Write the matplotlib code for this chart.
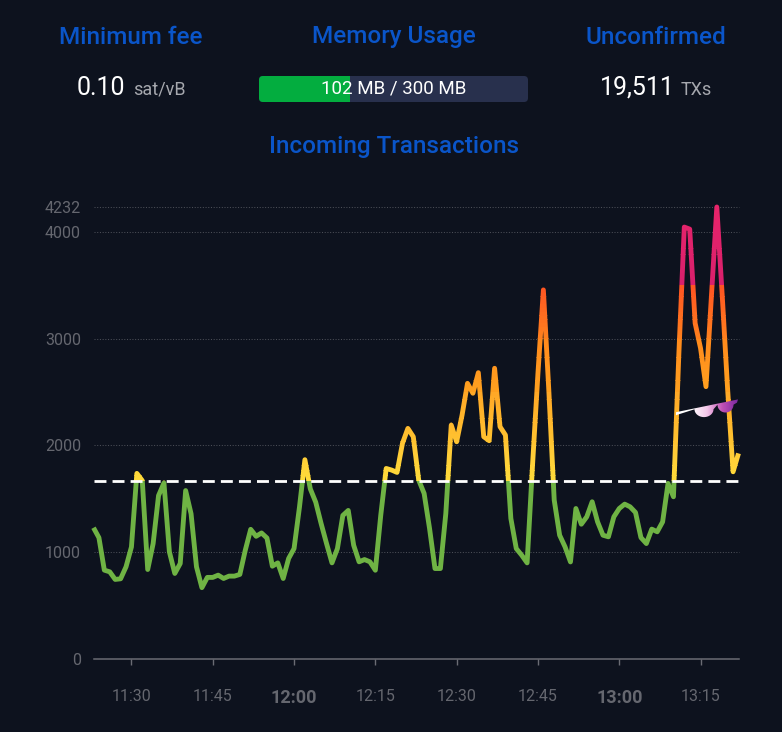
import numpy as np
import pandas as pd
import matplotlib
matplotlib.use("Agg")
import matplotlib.pyplot as plt
import matplotlib.dates as mdates
from matplotlib.colors import LinearSegmentedColormap, to_rgb
from matplotlib.patches import Rectangle, FancyBboxPatch

plt.rcParams['font.family'] = ['Roboto', 'DejaVu Sans']

BG = '#0d121e'
BLUE = '#0a55c9'
GRAY = '#65676f'

start_time = '2024-01-01 11:23'
tx_rate = [1229,1136,832,816,745,751,863,1049,1738,1670,838,1080,1530,1648,1003,801,894,1577,1360,863,
           668,764,764,785,754,776,776,792,1018,1214,1149,1180,1133,869,900,754,941,1034,1422,1866,
           1593,1468,1267,1080,900,1034,1344,1391,1065,910,931,910,831,1347,1784,1769,1747,2019,2159,2081,
           1675,1550,1222,847,847,1362,2190,2034,2284,2581,2488,2681,2081,2044,2722,2175,2097,1316,1034,972,
           900,1816,2675,3456,2519,1488,1159,1050,909,1409,1262,1331,1472,1284,1159,1144,1331,1409,1450,1425,
           1372,1137,1081,1216,1191,1284,1644,1519,2862,4044,4025,3144,2909,2550,3394,4232,3400,2519,1753,1925]
threshold = 1670
y_ticks = [0, 1000, 2000, 3000, 4000, 4232]
x_tick_times = ['11:30','11:45','12:00','12:15','12:30','12:45','13:00','13:15']
bold_ticks = ['12:00','13:00']
# value band: (low, high, colour at low, colour at high)
bands = [(0, threshold, '#6fb344', '#6fb344'),
         (threshold, 2000, '#ffdb3a', '#ffc836'),
         (2000, 2500, '#ffc431', '#ffa826'),
         (2500, 3000, '#ffa01f', '#ff8a1c'),
         (3000, 3500, '#ff7f1e', '#ff5522'),
         (3500, 4300, '#d9206c', '#e8246a')]

W, H = 782, 732
fig = plt.figure(figsize=(W/100, H/100), dpi=100, facecolor=BG)

def fx(px): return px / W
def fy(py): return 1 - py / H

ax = fig.add_axes([fx(93.5), fy(659), (738.5-93.5)/W, (659-207)/H])
ax.set_facecolor(BG)

times = pd.date_range(start_time, periods=len(tx_rate), freq='min')
day = start_time[:10]
xnum = mdates.date2num(times)
ax.set_xlim(xnum[0], xnum[-1])
ax.set_ylim(0, 4232)

for spine in ['top', 'right', 'left']:
    ax.spines[spine].set_visible(False)
ax.spines['bottom'].set_color('#6a6c74')
ax.spines['bottom'].set_linewidth(1.1)

# grid
for v in y_ticks[1:]:
    ax.axhline(v, color='#4b4e57', lw=0.75, dashes=(1, 1.6), zorder=1, clip_on=False)

# line: one copy per value slice, clipped so that its colour follows the value
for lo, hi, c0, c1 in bands:
    n = 1 if c0 == c1 else 14
    edges = np.linspace(lo, hi, n + 1)
    for k in range(n):
        t = k / max(n - 1, 1)
        col = tuple((1-t)*a + t*b for a, b in zip(to_rgb(c0), to_rgb(c1)))
        line, = ax.plot(xnum, tx_rate, color=col, lw=3.5, solid_joinstyle='round',
                        solid_capstyle='butt', zorder=3, clip_on=True)
        clip_lo = edges[k] if lo > 0 else -200
        rect = Rectangle((xnum[0]-1, clip_lo), xnum[-1]-xnum[0]+2, edges[k+1]-clip_lo + 2,
                         transform=ax.transData)
        line.set_clip_path(rect)

# threshold
ax.plot([xnum[0], xnum[-1]], [threshold, threshold], color='white', lw=2.0,
        dashes=(4.3, 2.2), zorder=4, dash_capstyle='butt', clip_on=False)

# ticks
ax.set_yticks(y_ticks)
ax.set_yticklabels([str(v) for v in y_ticks], fontsize=11.5, color=GRAY)
ax.tick_params(axis='y', length=0, pad=9)
tick_nums = mdates.date2num(pd.to_datetime([f'{day} {t}' for t in x_tick_times]))
ax.set_xticks(tick_nums)
labels = ax.set_xticklabels(x_tick_times, fontsize=11.5, color=GRAY)
for lb, t in zip(labels, x_tick_times):
    if t in bold_ticks:
        lb.set_fontweight('bold')
        lb.set_fontsize(13)
ax.tick_params(axis='x', length=4.5, width=1.0, color='#6a6c74', pad=17)

# goggle-shaped annotation, drawn in pixel-based overlay axes
ov = fig.add_axes([0, 0, 1, 1], facecolor='none')
ov.set_xlim(0, W); ov.set_ylim(H, 0); ov.axis('off')
cmap = LinearSegmentedColormap.from_list('g', ['#ffffff', '#ffffff', '#f4c8ea', '#c050b4', '#7a28a0'])
grad = np.linspace(0, 1, 256).reshape(1, -1)
im = ov.imshow(grad, extent=[676, 738, 425, 395], cmap=cmap, aspect='auto', zorder=5)
ov.set_xlim(0, W); ov.set_ylim(H, 0)

def lens(cx, cy, rx, ry):
    th = np.linspace(0.0, np.pi, 30)
    return list(zip(cx + rx*np.cos(th), cy + ry*np.sin(th)))

poly = [(676, 412.2), (738, 399.4), (737, 402.6)]
poly += lens(725.5, 404.7, 8, 7.8)
poly += lens(704, 409.3, 9.5, 7.8)
poly += [(676, 415.2)]
clip = plt.Polygon(poly, closed=True, transform=ov.transData, fc='none', ec='none')
ov.add_patch(clip)
im.set_clip_path(clip)

# header
def T(px, py, s, **kw):
    return fig.text(fx(px), fy(py), s, ha=kw.pop('ha', 'center'), va='center', **kw)

HEAD = dict(color=BLUE, fontsize=17.5, fontweight='medium')
T(131, 37, 'Minimum fee', **HEAD)
T(394, 37, 'Memory Usage', **HEAD)
T(656, 37, 'Unconfirmed', **HEAD)
T(394, 146, 'Incoming Transactions', **HEAD)

T(77, 88, '0.10', ha='left', color='white', fontsize=18)
T(133, 90, 'sat/vB', ha='left', color='#a6a8ae', fontsize=13)
T(600, 88, '19,511', ha='left', color='white', fontsize=18)
T(681, 90, 'TXs', ha='left', color='#a6a8ae', fontsize=13)

bar_bg = FancyBboxPatch((259, 76), 269, 26, boxstyle='round,pad=0,rounding_size=4',
                        fc='#28304d', ec='none', transform=ov.transData, zorder=2)
ov.add_patch(bar_bg)
bar_fg = Rectangle((259, 76), 91, 26, fc='#03ad3f', ec='none', transform=ov.transData, zorder=3)
ov.add_patch(bar_fg)
bar_fg.set_clip_path(bar_bg)
T(393.5, 88.5, '102 MB / 300 MB', color='white', fontsize=13.5, zorder=6)

fig.savefig('out.png', dpi=100, facecolor=BG)
